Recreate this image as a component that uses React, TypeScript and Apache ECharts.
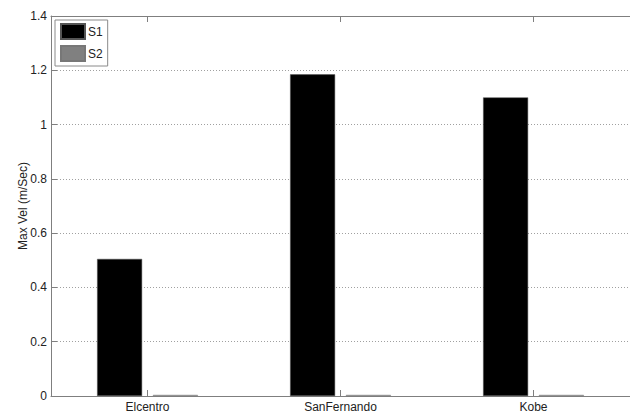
import React, { useEffect, useRef } from "react";
import * as echarts from "echarts";

const categories = ["Elcentro", "SanFernando", "Kobe"];
const s1Values = [0.505, 1.185, 1.1];
const s2Values = [0.004, 0.004, 0.004];
const seriesNames = ["S1", "S2"];
const yAxisTitle = "Max Vel (m/Sec)";

export default function App() {
  const ref = useRef<HTMLDivElement>(null);
  useEffect(() => {
    if (!ref.current) return;
    const chart = echarts.init(ref.current, null, { renderer: "svg" });
    const axisColor = "#7f7f7f";
    const font = "'Liberation Sans', Arial, sans-serif";
    chart.setOption({
      animation: false,
      backgroundColor: "#ffffff",
      textStyle: { fontFamily: font },
      grid: { left: 51, right: -6, top: 16, bottom: 21, containLabel: false },
      legend: {
        orient: "vertical",
        left: 55,
        top: 20,
        data: seriesNames,
        icon: "rect",
        itemWidth: 24,
        itemHeight: 15,
        itemGap: 5,
        padding: [3, 5, 4, 5],
        borderColor: "#8a8a8a",
        borderWidth: 1,
        backgroundColor: "#ffffff",
        textStyle: { fontSize: 12, color: "#222", fontFamily: font, padding: [0, 0, 0, -2] },
      },
      xAxis: [
        {
          type: "category",
          data: categories,
          position: "bottom",
          axisLine: { show: true, lineStyle: { color: axisColor, width: 1 } },
          axisTick: { show: true, inside: true, alignWithLabel: true, length: 6, lineStyle: { color: axisColor } },
          axisLabel: { color: "#222", fontSize: 12, margin: 5, fontFamily: font },
          splitLine: { show: false },
        },
        {
          type: "category",
          data: categories,
          position: "top",
          axisLine: { show: true, lineStyle: { color: axisColor, width: 1 } },
          axisTick: { show: true, inside: true, alignWithLabel: true, length: 6, lineStyle: { color: axisColor } },
          axisLabel: { show: false },
          splitLine: { show: false },
        },
      ],
      yAxis: {
        type: "value",
        min: 0,
        max: 1.4,
        interval: 0.2,
        name: yAxisTitle,
        nameLocation: "middle",
        nameGap: 22,
        nameMoveOverlap: false,
        nameTextStyle: { fontSize: 12, color: "#222", fontFamily: font },
        axisLine: { show: true, lineStyle: { color: axisColor, width: 1 } },
        axisTick: { show: true, inside: true, length: 6, lineStyle: { color: axisColor } },
        axisLabel: { color: "#222", fontSize: 12, margin: 4, fontFamily: font },
        splitLine: { show: true, lineStyle: { color: "#a0a0a0", type: [1, 2], width: 1 } },
      },
      series: [
        {
          name: seriesNames[0],
          type: "bar",
          data: s1Values,
          barWidth: 45,
          barGap: "24%",
          itemStyle: { color: "#000000", borderColor: "#555", borderWidth: 0.5 },
        },
        {
          name: seriesNames[1],
          type: "bar",
          data: s2Values,
          barWidth: 45,
          itemStyle: { color: "#808080", borderColor: "#777", borderWidth: 0.5 },
        },
      ],
    });
    return () => chart.dispose();
  }, []);
  return (
    <div
      ref={ref}
      style={{ position: "absolute", left: 0, top: 0, width: 630, height: 417, background: "#fff" }}
    />
  );
}
